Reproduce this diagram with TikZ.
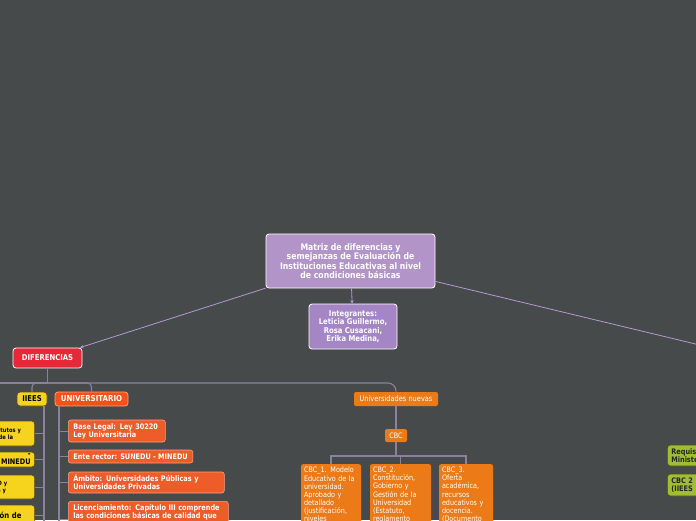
\documentclass[tikz,border=0pt]{standalone}
\usepackage{fontspec}
\setmainfont{DejaVu Sans}[FakeStretch=0.86]
\usepackage{tikz}
\usetikzlibrary{arrows.meta,calc,positioning}

\definecolor{bgmap}{RGB}{70,74,75}
\definecolor{rootpurple}{RGB}{178,148,201}
\definecolor{intpurple}{RGB}{165,134,197}
\definecolor{linkpurple}{RGB}{182,152,210}
\definecolor{treeline}{RGB}{140,128,160}
\definecolor{difred}{RGB}{229,41,56}
\definecolor{iiyellow}{RGB}{246,212,30}
\definecolor{iiborder}{RGB}{90,80,20}
\definecolor{univorange}{RGB}{247,80,25}
\definecolor{univborder}{RGB}{250,160,130}
\definecolor{univchild}{RGB}{238,92,42}
\definecolor{nuevorange}{RGB}{236,122,22}
\definecolor{greenbox}{RGB}{160,189,52}
\definecolor{greenborder}{RGB}{70,80,20}

\begin{document}
\begin{tikzpicture}[x=1pt,y=-1pt,>={Stealth[length=3.5pt,width=3.5pt]},
 topic/.style={draw=white,line width=0.8pt,rounded corners=3pt,text=white,inner sep=0pt,align=center},
 link/.style={linkpurple,line width=0.8pt},
 tree/.style={treeline,line width=1.1pt},
 ubox/.style={fill=univchild,draw=univborder,line width=0.6pt,rounded corners=2.5pt,text=white,
  font=\fontsize{7.6}{8}\selectfont\bfseries,align=left,anchor=west,inner xsep=5pt,inner ysep=0pt},
 ybox/.style={fill=iiyellow,draw=iiborder,line width=0.7pt,rounded corners=3pt,text=black,
  align=left,anchor=east,inner xsep=4pt,inner ysep=0pt},
 gbox/.style={fill=greenbox,draw=greenborder,line width=0.7pt,rounded corners=3pt,text=black!85,
  font=\fontsize{7.6}{8}\selectfont\bfseries,align=left,anchor=west,inner xsep=4pt,inner ysep=0pt,text width=40pt},
 cbox/.style={fill=nuevorange,rounded corners=2pt,text=white,font=\fontsize{7.5}{8.1}\selectfont,
  align=left,anchor=north,inner xsep=3pt,inner ysep=3pt}]

 \useasboundingbox (0,0) rectangle (696,520);
 \fill[bgmap] (0,0) rectangle (696,520);
 \clip (0,0) rectangle (696,520);

 % free ends outside the frame
 \coordinate (offright) at (760,359.5);
 \coordinate (offleft) at (-20,383);
 \coordinate (hub) at (47.5,383);
 \coordinate (cbchub) at (396,456);

 % centre
 \node[topic,fill=rootpurple,minimum width=169,minimum height=54,
  font=\fontsize{9}{9.4}\selectfont\bfseries] (root) at (350.5,261)
  {Matriz de diferencias y\\semejanzas de Evaluación de\\Instituciones Educativas al nivel\\de condiciones básicas};
 \node[topic,fill=intpurple,minimum width=88,minimum height=45,
  font=\fontsize{8}{8.4}\selectfont\bfseries] (integ) at (353,326.5)
  {Integrantes:\\Leticia Guillermo,\\Rosa Cusacani,\\Erika Medina,};

 \draw[link,->] (root) -- (integ);
 \draw[link] (root) -- (offright);

 % diferencias
 \node[topic,fill=difred,minimum width=69,minimum height=20,
  font=\fontsize{8}{8}\selectfont\bfseries] (dif) at (47.5,358) {DIFERENCIAS};
 \draw[link,->] (root) -- (dif);

 \node[topic,fill=iiyellow,draw=iiborder,text=black,minimum width=30,minimum height=14,
  font=\fontsize{8}{8}\selectfont\bfseries] (iiees) at (32,399) {IIEES};
 \node[topic,fill=univorange,draw=univborder,minimum width=73,minimum height=14,
  font=\fontsize{8.2}{8}\selectfont\bfseries] (univ) at (91.5,399) {UNIVERSITARIO};
 \node[topic,fill=nuevorange,draw=none,rounded corners=2pt,minimum width=84,minimum height=14,
  font=\fontsize{7.7}{8}\selectfont] (nuevas) at (396,399) {Universidades nuevas};

 \draw[tree] (dif) -- (hub);
 \draw[tree] (hub) -- (offleft);
 \draw[tree,rounded corners=4pt] (hub) -| (iiees);
 \draw[tree,rounded corners=4pt] (hub) -| (univ);
 \draw[tree,rounded corners=8pt] (hub) -| (nuevas);

 % IIEES branch
 \coordinate (stemL) at (44,406);
 \coordinate (stemLend) at (44,530);
 \draw[tree] (stemL) -- (stemLend);
 \node[ybox,text width=32pt,minimum height=25,font=\fontsize{6}{7}\selectfont\bfseries] (ya) at (35,433.5) {itutos y\\de la};
 \node[ybox,align=right,text width=31pt,minimum height=15,font=\fontsize{7.6}{8}\selectfont\bfseries] (yb) at (35,459.5) {- MINEDU};
 \node[ybox,text width=33pt,minimum height=24,font=\fontsize{6}{7}\selectfont\bfseries] (yc) at (35,487) {D y\\s y};
 \node[ybox,text width=31pt,minimum height=20,font=\fontsize{8}{8}\selectfont\bfseries] (yd) at (35,515) {ón de};
 \foreach \n in {ya,yb,yc,yd}
  \draw[tree,line width=0.8pt] (\n.east) -- (\n.east -| stemL);

 % UNIVERSITARIO branch
 \coordinate (stemR) at (59,406);
 \coordinate (stemRend) at (59,530);
 \draw[tree] (stemR) -- (stemRend);
 \node[ubox,text width=87pt,minimum height=22] (ua) at (68,431) {Base Legal: Ley 30220\\Ley Universitaria};
 \node[ubox,minimum width=122,minimum height=13] (ub) at (68,456.5) {Ente rector: SUNEDU - MINEDU};
 \node[ubox,text width=146pt,minimum height=21] (uc) at (68,482.5) {Ámbito: Universidades Públicas y\\Universidades Privadas};
 \node[ubox,anchor=north west,text width=150pt,inner ysep=3pt] (ud) at (68,501)
  {Licenciamiento: Capítulo III comprende\\las condiciones básicas de calidad que\\\mbox{}\\\mbox{}};
 \foreach \n in {ua,ub,uc,ud}
  \draw[tree,line width=0.8pt] (\n.west -| stemR) -- (\n.west);

 % universidades nuevas
 \node[topic,fill=nuevorange,draw=none,rounded corners=2pt,minimum width=22,minimum height=13,
  font=\fontsize{7.5}{8}\selectfont] (cbc) at (396,435.5) {CBC};
 \draw[tree] (nuevas) -- (cbc);
 \draw[tree] (cbc) -- (cbchub);

 \node[cbox,text width=54pt] (cbca) at (331,464)
  {CBC\_1. Modelo\\Educativo de la\\universidad.\\Aprobado y\\detallado\\(justificación,\\niveles};
 \node[cbox,text width=55pt] (cbcb) at (400.5,464)
  {CBC\_2.\\Constitución,\\Gobierno y\\Gestión de la\\Universidad\\(Estatuto,\\reglamento};
 \node[cbox,text width=48pt] (cbcc) at (466,464)
  {CBC\_3.\\Oferta\\académica,\\recursos\\educativos y\\docencia.\\(Documento};
 \foreach \n in {cbca,cbcb,cbcc}
  \draw[tree] (cbchub) -| (\n);

 % right side, cut by the frame
 \node[gbox,minimum height=21] (ga) at (667,455.5) {Requis\\Ministe};
 \node[gbox,minimum height=22] (gb) at (667,485) {CBC 2 (\\(IIEES};
\end{tikzpicture}
\end{document}
